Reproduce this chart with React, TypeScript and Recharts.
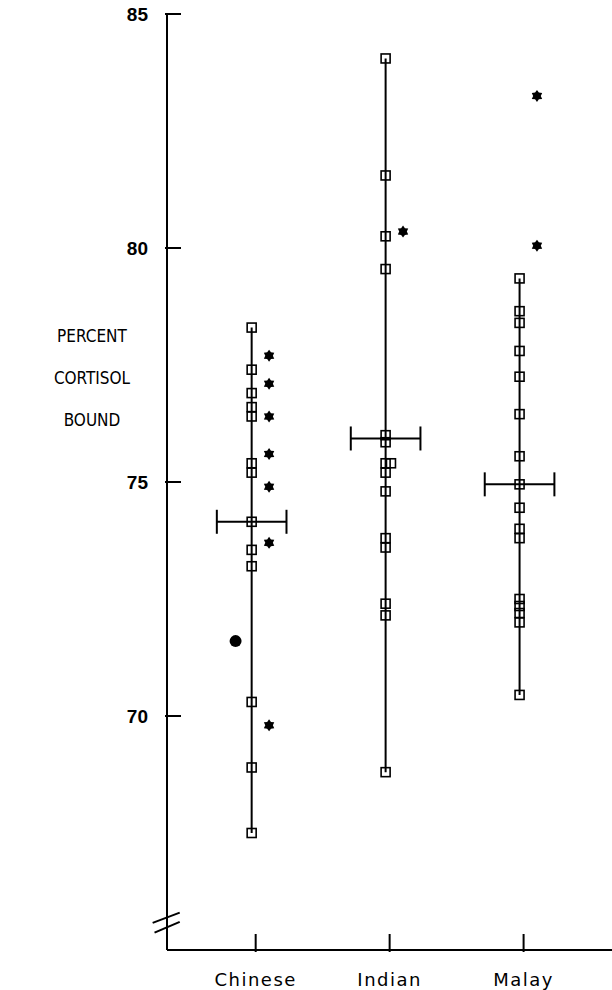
import React from "react";
import { ComposedChart, XAxis, YAxis, Scatter, ReferenceLine, ErrorBar } from "recharts";

// ---- data ----
const categories = ["Chinese", "Indian", "Malay"];
const yTicks = [70, 75, 80, 85];

const chineseSquares = [78.3, 77.4, 76.9, 76.6, 76.4, 75.4, 75.2, 74.15, 73.55, 73.2, 70.3, 68.9, 67.5];
const chineseStars = [77.7, 77.1, 76.4, 75.6, 74.9, 73.7, 69.8];
const chineseDots = [71.6];
const chineseMean = 74.15;

const indianSquares = [84.05, 81.55, 80.25, 79.55, 76.0, 75.85, 75.4, 75.2, 74.8, 73.8, 73.6, 72.4, 72.15, 68.8];
const indianSideSquares = [75.4];
const indianStars = [80.35];
const indianMean = 75.93;

const malaySquares = [79.35, 78.65, 78.4, 77.8, 77.25, 76.45, 75.55, 74.95, 74.45, 74.0, 73.8, 72.5, 72.35, 72.2, 72.0, 70.45];
const malayStars = [83.25, 80.05];
const malayMean = 74.95;

// ---- layout constants (styling) ----
const SQUARE_DX = -0.03;
const STAR_DX = 0.1;
const DOT_DX = -0.15;
const SIDE_DX = 0.01;
const MEAN_HALF = 0.26;

const groups = [
  { squares: chineseSquares, stars: chineseStars, dots: chineseDots, side: [] as number[], mean: chineseMean },
  { squares: indianSquares, stars: indianStars, dots: [] as number[], side: indianSideSquares, mean: indianMean },
  { squares: malaySquares, stars: malayStars, dots: [] as number[], side: [] as number[], mean: malayMean },
];

const squareData = groups.flatMap((g, i) => [
  ...g.squares.map((v) => ({ x: i + 1 + SQUARE_DX, y: v })),
  ...g.side.map((v) => ({ x: i + 1 + SIDE_DX, y: v })),
]);
const starData = groups.flatMap((g, i) => g.stars.map((v) => ({ x: i + 1 + STAR_DX, y: v })));
const dotData = groups.flatMap((g, i) => g.dots.map((v) => ({ x: i + 1 + DOT_DX, y: v })));
const meanData = groups.map((g, i) => ({ x: i + 1 + SQUARE_DX, y: g.mean, err: MEAN_HALF }));
const ranges = groups.map((g, i) => ({
  x: i + 1 + SQUARE_DX,
  lo: Math.min(...g.squares),
  hi: Math.max(...g.squares),
}));

const SquareShape = (p: any) => (
  <rect x={p.cx - 4.5} y={p.cy - 4.5} width={9} height={9} fill="none" stroke="#000" strokeWidth={1.6} />
);

const StarShape = (p: any) => {
  const pts: string[] = [];
  for (let k = 0; k < 12; k++) {
    const r = k % 2 === 0 ? 6 : 3.8;
    const a = (Math.PI / 6) * k - Math.PI / 2;
    pts.push(`${p.cx + r * Math.cos(a)},${p.cy + r * Math.sin(a)}`);
  }
  return <polygon points={pts.join(" ")} fill="#000" />;
};

const DotShape = (p: any) => <circle cx={p.cx} cy={p.cy} r={6} fill="#000" />;
const NoShape = () => <g />;

const YTick = (p: any) => (
  <g>
    <line x1={p.x} x2={p.x + 16} y1={p.y} y2={p.y} stroke="#000" strokeWidth={2} />
    <text
      x={p.x - 17}
      y={p.y}
      textAnchor="end"
      dominantBaseline="central"
      fontFamily="'Liberation Sans', Arial, sans-serif"
      fontWeight="bold"
      fontSize={19}
      fill="#000"
    >
      {p.payload.value}
    </text>
  </g>
);

const XTick = (p: any) => (
  <g>
    <line x1={p.x} x2={p.x} y1={p.y} y2={p.y - 18} stroke="#000" strokeWidth={2} />
    <text
      x={p.x}
      y={p.y + 27}
      textAnchor="middle"
      dominantBaseline="central"
      fontFamily="DejaVu Sans"
      fontSize={18}
      letterSpacing={1.5}
      fill="#000"
    >
      {categories[Math.round(p.payload.value) - 1]}
    </text>
  </g>
);

const titleLines = ["PERCENT", "CORTISOL", "BOUND"];
const YTitle = () => (
  <g>
    {titleLines.map((t, i) => (
      <text
        key={t}
        x={92}
        y={336 + i * 42}
        textAnchor="middle"
        dominantBaseline="central"
        fontFamily="'Liberation Sans Narrow', 'DejaVu Sans Condensed', 'DejaVu Sans'"
        fontSize={17}
        fill="#000"
      >
        {t}
      </text>
    ))}
  </g>
);

export default function App() {
  return (
    <div style={{ position: "absolute", left: 0, top: 0, background: "#fff" }}>
      <ComposedChart width={612} height={990} margin={{ top: 14, right: 0, bottom: 0, left: 0 }}>
        <XAxis
          type="number"
          dataKey="x"
          domain={[0.338, 3.66]}
          ticks={[1, 2, 3]}
          allowDataOverflow
          height={40}
          tickSize={0}
          tickLine={false}
          axisLine={{ stroke: "#000", strokeWidth: 2 }}
          tick={<XTick />}
        />
        <YAxis
          type="number"
          dataKey="y"
          domain={[65, 85]}
          ticks={yTicks}
          allowDataOverflow
          width={167}
          tickSize={0}
          tickLine={false}
          axisLine={{ stroke: "#000", strokeWidth: 2 }}
          tick={<YTick />}
          label={{ content: <YTitle /> }}
        />
        {ranges.map((r, i) => (
          <ReferenceLine
            key={"r" + i}
            segment={[
              { x: r.x, y: r.lo },
              { x: r.x, y: r.hi },
            ]}
            stroke="#000"
            strokeWidth={2}
          />
        ))}
        <ReferenceLine
          segment={[
            { x: 0.231, y: 65.58 },
            { x: 0.433, y: 65.8 },
          ]}
          stroke="#000"
          strokeWidth={2}
          ifOverflow="visible"
        />
        <ReferenceLine
          segment={[
            { x: 0.245, y: 65.37 },
            { x: 0.433, y: 65.6 },
          ]}
          stroke="#000"
          strokeWidth={2}
          ifOverflow="visible"
        />
        <Scatter data={meanData} shape={<NoShape />} isAnimationActive={false}>
          <ErrorBar dataKey="err" direction="x" width={12} stroke="#000" strokeWidth={2} />
        </Scatter>
        <Scatter data={squareData} shape={<SquareShape />} isAnimationActive={false} />
        <Scatter data={starData} shape={<StarShape />} isAnimationActive={false} />
        <Scatter data={dotData} shape={<DotShape />} isAnimationActive={false} />
      </ComposedChart>
    </div>
  );
}
